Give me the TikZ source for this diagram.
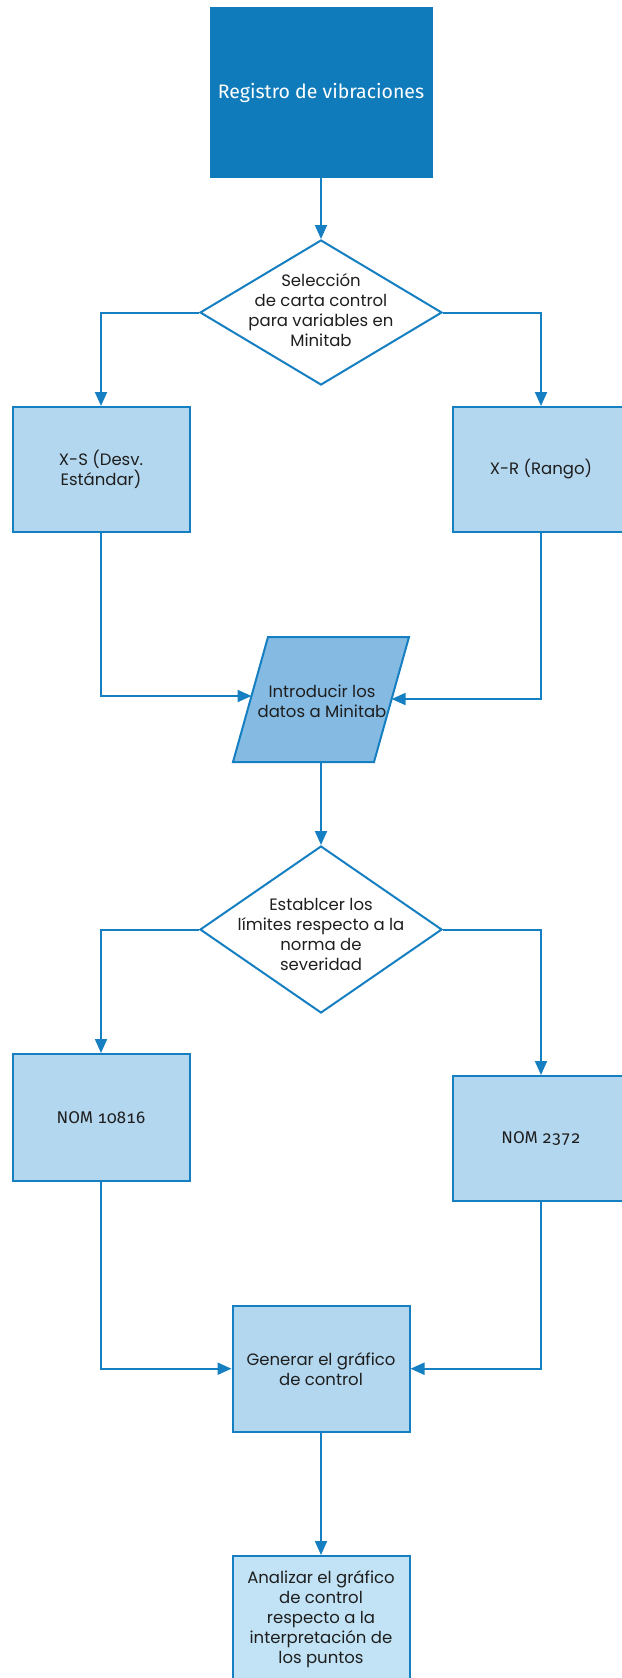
\documentclass[tikz,border=0pt]{standalone}
\usepackage{fontspec}
\setmainfont{Poppins}
\newfontfamily\handfont{Fira Sans}[Numbers={OldStyle,Monospaced}]
\usetikzlibrary{shapes.geometric,arrows.meta}
\definecolor{lineblue}{RGB}{21,127,194}
\definecolor{topfill}{RGB}{15,123,187}
\definecolor{boxfill}{RGB}{179,215,239}
\definecolor{parfill}{RGB}{133,187,227}
\definecolor{lastfill}{RGB}{193,227,245}
\definecolor{txtcol}{RGB}{30,30,30}
\tikzset{
  base/.style={line width=2pt, draw=lineblue, text=txtcol, align=center, inner sep=0pt,
    font=\fontsize{16.5}{20}\selectfont},
  topbox/.style={base, rectangle, fill=topfill, draw=topfill, text=white,
    minimum width=221pt, minimum height=168pt, font=\handfont\fontsize{19.5}{22}\selectfont},
  procbox/.style={base, rectangle, fill=boxfill, minimum width=177pt, minimum height=125pt},
  nombox/.style={procbox, font=\handfont\fontsize{17}{20}\selectfont},
  lastbox/.style={procbox, fill=lastfill, minimum height=126pt},
  decision/.style={base, diamond, fill=white, aspect=1.67},
  label/.style={text=txtcol, align=center, inner sep=0pt, font=\fontsize{16.5}{20}\selectfont},
  conn/.style={line width=2pt, draw=lineblue, -{Triangle[length=14pt,width=12pt]}}
}
\begin{document}
\begin{tikzpicture}[x=1pt,y=-1pt]
\useasboundingbox (0,0) rectangle (621,1678);
% nodes
\node[topbox] (reg) at (321,92.5) {Registro de vibraciones};
\node[decision, minimum width=242pt, minimum height=145pt] (d1) at (321,312.5) {};
\node[label] (d1t) at (321,310) {Selección\\de carta control\\para variables en\\Minitab};
\node[procbox] (xs) at (101,469.5) {X-S (Desv.\\Estándar)};
\node[procbox] (xr) at (541,469.5) {X-R (Rango)};
% parallelogram
\coordinate (ptl) at (268,637);
\coordinate (ptr) at (409,637);
\coordinate (pbr) at (374,762);
\coordinate (pbl) at (233,762);
\coordinate (pb) at (321,762);
\coordinate (pl) at (251.5,696);
\coordinate (pr) at (391.6,699);
\filldraw[line width=2pt, draw=lineblue, fill=parfill, line join=miter] (ptl) -- (ptr) -- (pbr) -- (pbl) -- cycle;
\node[label] (part) at (322,701) {Introducir los\\datos a Minitab};
\node[decision, minimum width=242pt, minimum height=167pt] (d2) at (321,929.5) {};
\node[label] (d2t) at (321,934) {Establcer los\\límites respecto a la\\norma de\\severidad};
\node[nombox, minimum height=127pt] (n1) at (101,1117.5) {NOM 10816};
\node[nombox] (n2) at (541,1138.5) {NOM 2372};
\node[procbox, minimum height=126pt] (gen) at (321,1368.7) {Generar el gráfico\\de control};
\node[lastbox] (ana) at (321,1619) {Analizar el gráfico\\de control\\respecto a la\\interpretación de\\los puntos};
% connectors
\draw[conn] (reg.south) -- (d1.north);
\draw[conn] (d1.west) -| (xs.north);
\draw[conn] (d1.east) -| (xr.north);
\draw[conn] (xs.south) |- (pl);
\draw[conn] (xr.south) |- (pr);
\draw[conn] (pb) -- (d2.north);
\draw[conn] (d2.west) -| (n1.north);
\draw[conn] (d2.east) -| (n2.north);
\draw[conn] (n1.south) |- (gen.west);
\draw[conn] (n2.south) |- (gen.east);
\draw[conn] (gen.south) -- (ana.north);
\end{tikzpicture}
\end{document}
